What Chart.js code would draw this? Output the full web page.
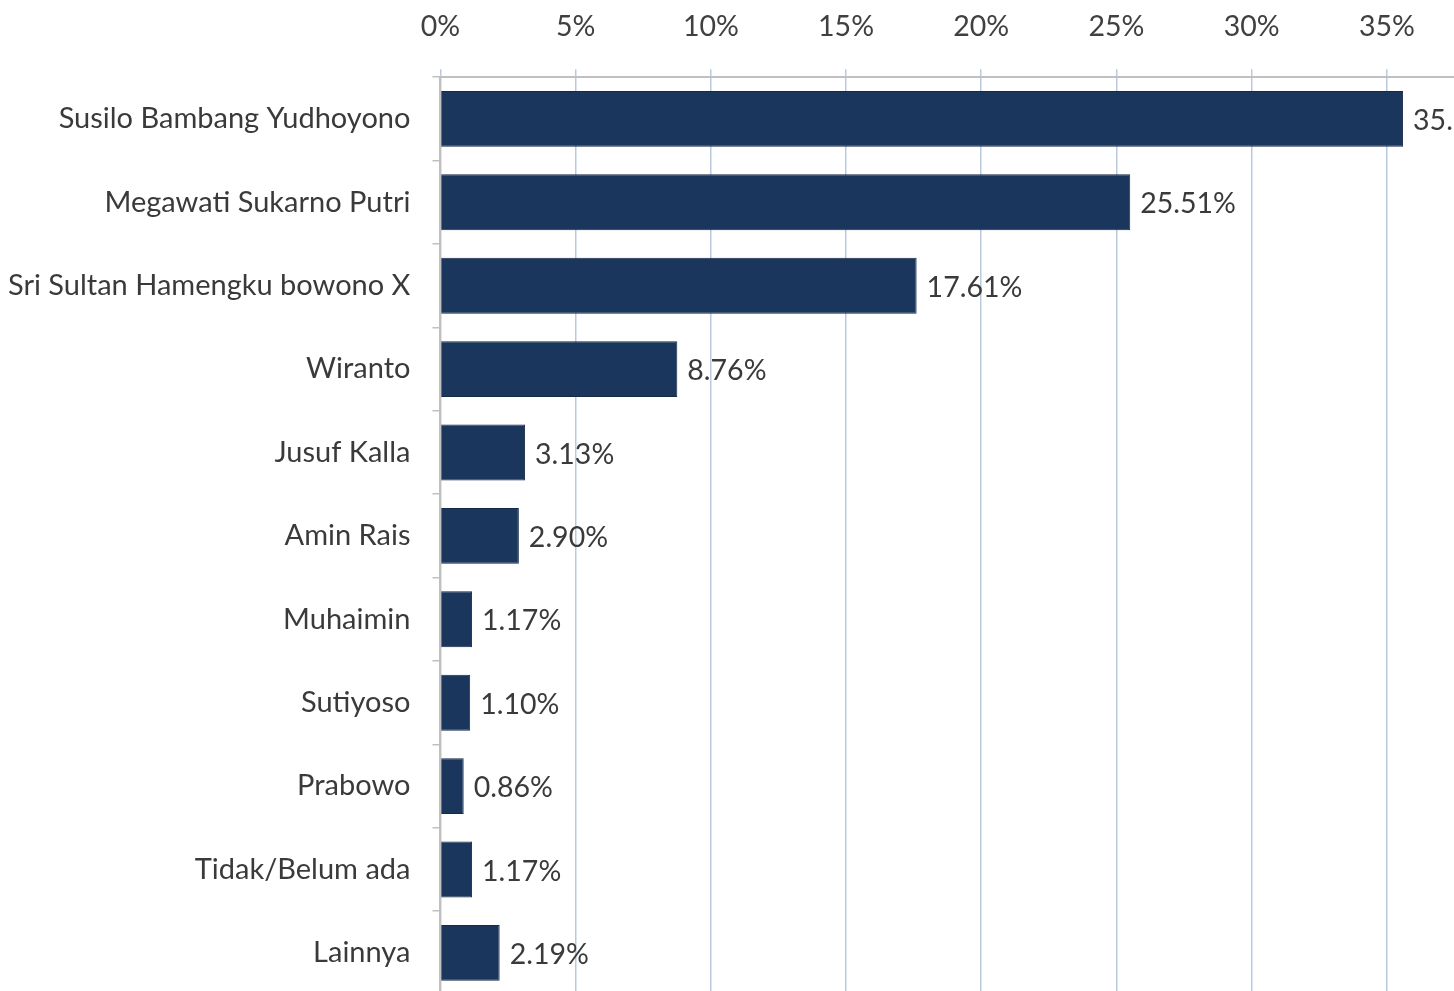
<!DOCTYPE html>
<html>
<head>
<meta charset="utf-8">
<script src="https://cdn.jsdelivr.net/npm/chart.js@4/dist/chart.umd.min.js"></script>
<style>
  html, body { margin: 0; padding: 0; background: #fff; overflow: hidden; }
  canvas { display: block; position: absolute; left: -14px; top: -15px; }
</style>
</head>
<body>
<canvas id="chart" width="1589" height="1049"></canvas>
<script>
const categories = [
  'Susilo Bambang Yudhoyono',
  'Megawati Sukarno Putri',
  'Sri Sultan Hamengku bowono X',
  'Wiranto',
  'Jusuf Kalla',
  'Amin Rais',
  'Muhaimin',
  'Sutiyoso',
  'Prabowo',
  'Tidak/Belum ada',
  'Lainnya'
];
const values = [35.60, 25.51, 17.61, 8.76, 3.13, 2.90, 1.17, 1.10, 0.86, 1.17, 2.19];

// label at the end of each bar
const barLabels = {
  id: 'barLabels',
  afterDatasetsDraw(chart) {
    const ctx = chart.ctx;
    const meta = chart.getDatasetMeta(0);
    ctx.save();
    ctx.font = '28.5px Lato';
    ctx.fillStyle = '#3a3a3a';
    ctx.textAlign = 'left';
    ctx.textBaseline = 'middle';
    meta.data.forEach((bar, i) => {
      ctx.fillText(values[i].toFixed(2) + '%', bar.x + 10, bar.y + 2);
    });
    ctx.restore();
  }
};

const ctx = document.getElementById('chart').getContext('2d');
new Chart(ctx, {
  type: 'bar',
  data: {
    labels: categories,
    datasets: [{
      data: values,
      backgroundColor: '#1b365d',
      borderColor: '#15294a',
      borderWidth: 1,
      categoryPercentage: 1.0,
      barPercentage: 0.67
    }]
  },
  plugins: [barLabels],
  options: {
    indexAxis: 'y',
    responsive: false,
    animation: false,
    layout: { padding: { top: 0, left: 0, right: 0, bottom: 5 } },
    plugins: {
      legend: { display: false },
      tooltip: { enabled: false }
    },
    scales: {
      x: {
        position: 'top',
        min: 0,
        max: 40,
        ticks: {
          stepSize: 5,
          color: '#404040',
          font: { family: 'Lato', size: 28.5 },
          padding: 25,
          callback: v => v + '%'
        },
        grid: {
          color: '#b9cadf',
          lineWidth: 1.5,
          tickLength: 8
        },
        border: { display: true, color: '#c0c0c0', width: 2 }
      },
      y: {
        ticks: {
          color: '#3a3a3a',
          font: { family: 'Lato', size: 29 },
          padding: 22
        },
        grid: {
          offset: true,
          drawOnChartArea: false,
          color: '#c0c0c0',
          lineWidth: 1.5,
          tickLength: 8
        },
        border: { display: true, color: '#c0c0c0', width: 2 }
      }
    }
  }
});
</script>
</body>
</html>
